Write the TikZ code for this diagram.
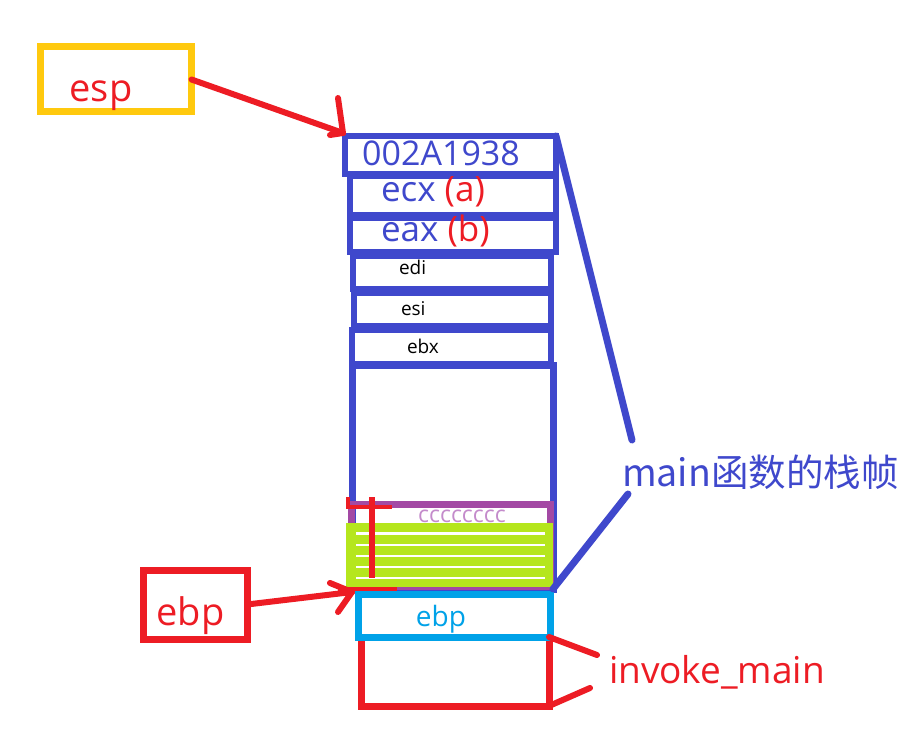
\documentclass[tikz,border=0pt]{standalone}
\usepackage{fontspec}
\setmainfont{Open Sans}
\newfontfamily\cjk{Noto Sans CJK SC}
\definecolor{pblue}{HTML}{3F48CC}
\definecolor{pred}{HTML}{ED1C24}
\definecolor{pyellow}{HTML}{FFC90E}
\definecolor{pcyan}{HTML}{00A2E8}
\definecolor{ppurple}{HTML}{A349A4}
\definecolor{pgreen}{HTML}{B5E61D}
\definecolor{plilac}{HTML}{C48BCB}
\tikzset{
  slot/.style={draw=pblue, line width=6pt, inner sep=0pt, outer sep=0pt},
  frame/.style={draw=#1, line width=7pt, inner sep=0pt, outer sep=0pt},
  txt/.style={inner sep=0pt, outer sep=0pt, font=\fontsize{#1}{#1}\selectfont},
  redline/.style={draw=pred, line width=6pt, line cap=round},
  blueline/.style={draw=pblue, line width=7pt, line cap=round},
}
\begin{document}
\begin{tikzpicture}[x=1pt,y=-1pt]
\useasboundingbox[fill=white] (0,0) rectangle (916,746);

% esp register box
\node[frame=pyellow, minimum width=151, minimum height=65] (esp) at (116,79.5) {};
\node[txt=38, text=pred, anchor=base] (esptxt) at (101,102) {esp};

% main stack frame
\node[frame=pblue, minimum width=201, minimum height=224] (big) at (452.5,477) {};
\node[slot, minimum width=211, minimum height=38] (s1) at (450.5,155) {};
\node[slot, minimum width=206, minimum height=39] (s2) at (453,195.5) {};
\node[slot, minimum width=206, minimum height=34] (s3) at (453,235) {};
\node[slot, minimum width=198, minimum height=33] (s4) at (452,272.5) {};
\node[slot, minimum width=197, minimum height=33] (s5) at (452.5,309.5) {};
\node[slot, minimum width=199, minimum height=34] (s6) at (451.5,347) {};

\node[txt=34, text=pblue, anchor=base] (t1) at (441,166) {002A1938};
\node[txt=35, text=pblue, anchor=base west] (t2) at (381,202) {ecx \textcolor{pred}{(a)}};
\node[txt=35, text=pblue, anchor=base west] (t3) at (381,242) {eax \textcolor{pred}{(b)}};
\node[txt=19, anchor=base west] (t4) at (399,275) {edi};
\node[txt=19, anchor=base west] (t5) at (401,315) {esi};
\node[txt=19, anchor=base west] (t6) at (407,353) {ebx};

% cccc area
\node[frame=ppurple, minimum width=199, minimum height=82] (cc) at (450.5,545) {};
\node[txt=23, text=plilac, anchor=base] (c1) at (462,522) {cccccccc};
\node[txt=23, text=plilac, anchor=base] (c2) at (462,550) {cccccccc};
\node[txt=23, text=plilac, anchor=base] (c3) at (462,578) {cccccccc};
\fill[pgreen] (346,523) rectangle (553,587);
\foreach \yy in {533.5,545,556,567,578}
  \draw[white, line width=2.5pt] (356,\yy) -- (545,\yy);
\draw[pred, line width=6pt] (371.5,497) -- (371.5,578);
\draw[pred, line width=4pt] (346,507) -- (392,507);
\draw[pred, line width=4pt] (348,497) -- (348,507);
\draw[pred, line width=5pt] (338,589.5) -- (397,589.5);

% invoke_main frame
\node[frame=pred, minimum width=188, minimum height=69] (invk) at (455,671.5) {};
\node[frame=pcyan, minimum width=192, minimum height=43] (ebpslot) at (454,615.5) {};
\node[txt=28, text=pcyan, anchor=base] (ebptxt) at (441,626) {ebp};

% ebp register box
\node[frame=pred, minimum width=103.5, minimum height=69] (ebp) at (195.25,604.5) {};
\node[txt=38, text=pred, anchor=base] (ebpregtxt) at (190.5,625) {ebp};

% labels
\node[txt=37.5, text=pblue, anchor=base west] (mainlbl) at (622,486) {\cjk main函数的栈帧};
\node[txt=37, text=pred, anchor=base west] (invlbl) at (609,683) {invoke\_main};

% connectors
\coordinate (tipA) at (343,133);
\draw[redline] (esp.east) -- (tipA);
\draw[redline] (tipA) -- ++(-5,-35);
\draw[redline] (tipA) -- ++(-13,2);

\coordinate (tipB) at (352,592);
\draw[redline] (ebp.east) -- (tipB);
\draw[redline] (tipB) -- ++(-22,-9);
\draw[redline] (tipB) -- ++(-14,20);

\coordinate (m1) at (632,440);
\coordinate (m2) at (628,494);
\draw[blueline] (s1.north east) -- (m1);
\draw[blueline] (big.south east) -- (m2);

\coordinate (iv1) at (597,655);
\coordinate (iv2) at (590,688);
\draw[redline] (invk.north east) -- (iv1);
\draw[redline] (invk.south east) -- (iv2);
\end{tikzpicture}
\end{document}
